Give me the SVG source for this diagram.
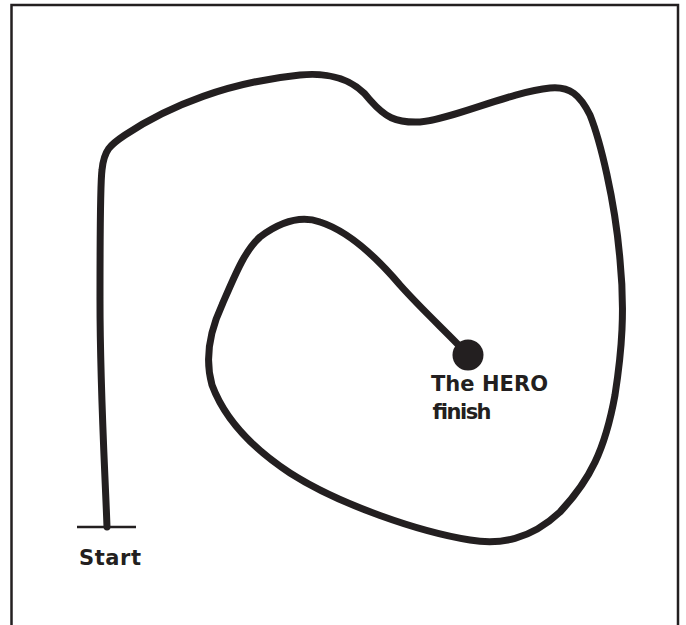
<svg xmlns="http://www.w3.org/2000/svg" width="686" height="625" viewBox="0 0 686 625">
<style>
.frame{fill:none;stroke:#231f20;stroke-width:2.5}
.path{fill:none;stroke:#231f20;stroke-width:7;stroke-linecap:round;stroke-linejoin:round}
.bar{stroke:#231f20;stroke-width:2.5}
.lbl{font-family:"DejaVu Sans",sans-serif;font-weight:bold;font-size:21px;fill:#231f20}
</style>
<rect width="686" height="625" fill="#ffffff"/>
<path class="frame" d="M11.5,625 V5 H678 V625"/>
<g id="connectors">
<path class="path" d="M107,527 C105,470 100,390 100,300 C100,230 100,185 102,170 C104,150 110,145 125,135 C170,105 230,82 300,75 C330,72 355,80 370,100 C385,117 395,123 420,122 C450,120 510,92 550,88 C570,86 580,95 590,115 C600,140 615,200 620,260 C625,310 622,350 615,395 C605,450 590,480 560,512 C530,540 500,545 470,540 C420,532 340,505 290,473 C255,450 225,420 212,385 C205,360 208,335 222,305 C235,275 245,250 260,237 C280,222 300,215 320,222 C345,230 372,252 400,285 C425,313 450,335 468,355"/>
</g>
<g id="start">
<line class="bar" x1="77" y1="527" x2="136" y2="527"/>
<text class="lbl" x="79" y="565" textLength="62">Start</text>
</g>
<g id="finish">
<circle cx="468" cy="355" r="15.5" fill="#231f20"/>
<text class="lbl" x="431" y="391" textLength="117">The HERO</text>
<text class="lbl" x="431" y="419" textLength="59">finish</text>
</g>
</svg>
